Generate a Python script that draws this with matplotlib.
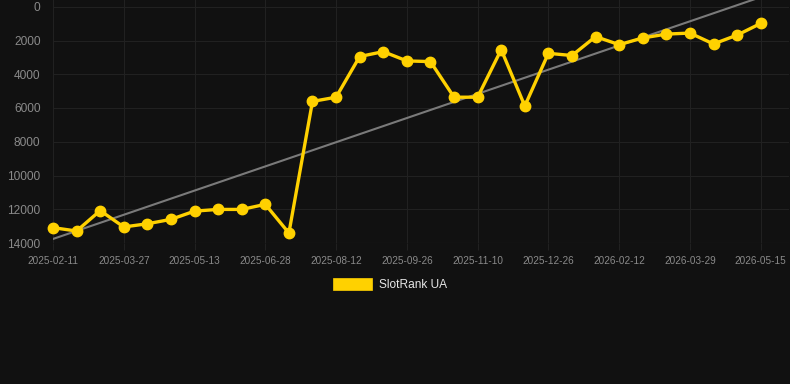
import matplotlib
matplotlib.use("Agg")
import matplotlib.pyplot as plt
import numpy as np
from matplotlib.patches import Rectangle

dates = ["2025-02-11", "2025-02-26", "2025-03-12", "2025-03-27", "2025-04-11", "2025-04-27",
         "2025-05-13", "2025-05-28", "2025-06-12", "2025-06-28", "2025-07-13", "2025-07-28",
         "2025-08-12", "2025-08-27", "2025-09-11", "2025-09-26", "2025-10-11", "2025-10-26",
         "2025-11-10", "2025-11-25", "2025-12-10", "2025-12-26", "2026-01-10", "2026-01-26",
         "2026-02-12", "2026-02-27", "2026-03-14", "2026-03-29", "2026-04-13", "2026-04-29",
         "2026-05-15"]
rank = [13090, 13290, 12080, 13050, 12860, 12600, 12110, 12010, 12010, 11710, 13410,
        5610, 5360, 2950, 2660, 3210, 3250, 5360, 5360, 2540, 5880, 2760, 2890,
        1770, 2245, 1850, 1620, 1560, 2205, 1680, 990]
trend_ends = [13760, -570]   # trend line value at first and last date
series_label = "SlotRank UA"
y_ticks = [0, 2000, 4000, 6000, 8000, 10000, 12000, 14000]

BG = "#111111"
GOLD = "#FFD100"
GRID = "#212121"
TICKC = "#8a8a8a"

fig = plt.figure(figsize=(7.9, 3.84), dpi=100, facecolor=BG)
W, H = 790, 384
ax = fig.add_axes([53 / W, (H - 243) / H, (789 - 53) / W, 243 / H])
ax.set_facecolor(BG)

x = np.arange(len(rank))
ax.plot([0, len(rank) - 1], trend_ends, color="#7a7a7a", lw=1.5, zorder=2, clip_on=True)

ax.plot(x, rank, color=GOLD, lw=2.4, marker="o", markersize=7.5,
        markerfacecolor=GOLD, markeredgecolor=GOLD, zorder=3, clip_on=False)

ax.set_xlim(0, len(rank) - 1 + 1.2)
ax.set_ylim(14000, -400)
ax.set_yticks(y_ticks)
ax.set_yticklabels([str(v) for v in y_ticks])
tick_idx = list(range(0, len(dates), 3))
ax.set_xticks(tick_idx)
ax.set_xticklabels([dates[i] for i in tick_idx])

for s in ax.spines.values():
    s.set_visible(False)
ax.grid(True, color=GRID, lw=0.8)
ax.set_axisbelow(True)
ax.tick_params(axis="y", length=0, pad=9, labelsize=8.6, labelcolor=TICKC,
               labelfontfamily="Liberation Sans")
ax.tick_params(axis="x", length=5, width=0.8, color=GRID, pad=4, labelsize=7.2,
               labelcolor=TICKC, labelfontfamily="Liberation Sans")
ax.axhline(14000, color="#262626", lw=0.8, zorder=1)

# legend
fig.patches.append(Rectangle((333 / W, (H - 290) / H), 39 / W, 12 / H,
                             transform=fig.transFigure, facecolor=GOLD,
                             edgecolor=GOLD, lw=0.5))
fig.text(379 / W, (H - 284.5) / H, series_label, color="#e6e6e6", fontsize=8.6,
         family="Liberation Sans", va="center", ha="left")

fig.savefig("out.png", dpi=100, facecolor=BG)
